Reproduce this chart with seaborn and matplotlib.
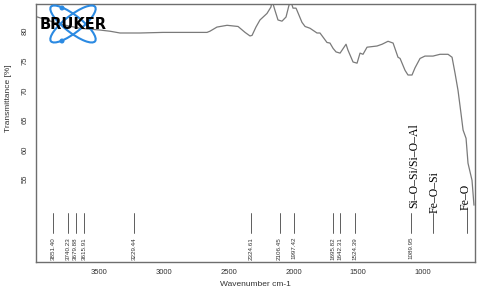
import numpy as np
import pandas as pd
import matplotlib
matplotlib.use("Agg")
import matplotlib.pyplot as plt
import seaborn as sns
from matplotlib.patches import Ellipse, Circle

# FTIR spectrum
wavenumber = [3990, 3917, 3801, 3647, 3492, 3415, 3338, 3184, 3006, 2667,
              2644, 2590, 2512, 2427, 2373, 2335, 2319, 2289, 2258, 2204,
              2173, 2165, 2142, 2119, 2088, 2057, 2034, 2019, 2003, 1980,
              1972, 1934, 1910, 1872, 1818, 1795, 1741, 1718, 1694, 1671,
              1640, 1594, 1579, 1540, 1509, 1486, 1463, 1432, 1355, 1316,
              1270, 1231, 1193, 1177, 1139, 1116, 1085, 1062, 1023, 985,
              923, 869, 807, 776, 753, 730, 707, 691, 668, 653,
              622, 607]
transmittance = [82.5, 82.0, 81.2, 80.5, 80.2, 80.0, 79.7, 79.7, 79.8, 79.8,
                 80.0, 80.7, 81.0, 80.8, 79.8, 79.2, 79.3, 80.7, 81.9, 83.0,
                 84.1, 85.2, 83.5, 81.9, 81.7, 82.4, 84.4, 85.0, 83.9, 83.9,
                 83.5, 81.5, 80.8, 80.5, 79.7, 79.7, 78.1, 78.0, 77.1, 76.5,
                 76.3, 77.8, 76.8, 74.8, 74.6, 76.3, 76.1, 77.3, 77.5, 77.8,
                 78.3, 78.0, 75.6, 75.4, 73.4, 72.6, 72.6, 73.8, 75.4, 75.8,
                 75.8, 76.1, 76.1, 75.6, 72.9, 70.0, 66.1, 63.3, 61.9, 57.7,
                 54.8, 50.6]

# picked peaks
peak_pos = [3851.40, 3740.23, 3679.88, 3615.91, 3229.44, 2324.61, 2106.45,
            1997.42, 1695.82, 1642.31, 1524.39, 1089.95]
peak_labels = ["3851.40", "3740.23", "3679.88", "3615.91", "3229.44", "2324.61",
               "2106.45", "1997.42", "1695.82", "1642.31", "1524.39", "1089.95"]

# band assignments
band_names = ["Si–O–Si/Si–O–Al", "Fe–O–Si", "Fe–O"]
band_pos = [1089.95, 923, 660]

x_ticks = [3500, 3000, 2500, 2000, 1500, 1000]
y_ticks = [55, 60, 65, 70, 75, 80]

GREY = "#6e6e6e"


def draw_logo(fig):
    # rough Bruker logo: two tilted orbits and the name
    lax = fig.add_axes([47 / 480, 1 - 43 / 294, 63 / 480, 38 / 294])
    lax.set_xlim(47, 110)
    lax.set_ylim(43, 5)
    lax.axis("off")
    lax.patch.set_visible(True)
    lax.patch.set_facecolor("white")
    blue = "#2b8ae2"
    for ang in (38, -38):
        lax.add_patch(Ellipse((73, 24), 56, 17, angle=ang, fill=False,
                              ec=blue, lw=1.5, clip_on=False))
    for cy in (8, 41):
        lax.add_patch(Circle((62, cy), 1.8, color=blue, clip_on=False))
    lax.text(73, 24.5, "BRUKER", ha="center", va="center", fontsize=10.5,
             fontweight="bold", color="black", family="DejaVu Sans",
             clip_on=False)


def main():
    sns.set_theme(style="white")
    plt.rcParams["font.family"] = ["Liberation Sans", "DejaVu Sans"]

    df = pd.DataFrame({"wn": wavenumber, "T": transmittance})

    fig = plt.figure(figsize=(4.8, 2.94), dpi=100)
    ax = fig.add_axes([36 / 480, 32 / 294, 439 / 480, 258 / 294])
    sns.lineplot(data=df, x="wn", y="T", sort=False, color="#7a7a7a",
                 linewidth=0.9, ax=ax)

    ax.set_xlim(3986, 599)
    ax.set_ylim(41.0, 84.6)
    ax.set_xticks(x_ticks)
    ax.set_yticks(y_ticks)
    ax.tick_params(axis="both", direction="out", length=3, width=0.8,
                   color=GREY, labelsize=5.5, labelcolor="#333333", pad=2)
    for lab in ax.get_yticklabels():
        lab.set_rotation(90)
        lab.set_va("center")
    for sp in ax.spines.values():
        sp.set_color(GREY)
        sp.set_linewidth(1.0)

    ax.set_xlabel("Wavenumber cm-1", fontsize=6, color="#333333", labelpad=4)
    ax.set_ylabel("Transmittance [%]", fontsize=6, color="#333333")
    ax.yaxis.set_label_coords(-0.055, 0.636)

    # peak markers with labels
    trans = ax.get_xaxis_transform()
    for p, lab in zip(peak_pos, peak_labels):
        ax.plot([p, p], [0.112, 0.19], transform=trans, color="#444444",
                lw=0.6)
        ax.text(p, 0.097, lab, transform=trans, rotation=90, ha="center",
                va="top", fontsize=4.5, color="#333333")

    # band assignments
    offsets = [-22, -15, 15]
    bottoms = [0.21, 0.19, 0.20]
    for name, p, off, b in zip(band_names, band_pos, offsets, bottoms):
        if p not in peak_pos:
            ax.plot([p, p], [0.112, b], transform=trans, color="#444444",
                    lw=0.6)
        ax.text(p + off, b, name, transform=trans, rotation=90,
                ha="center", va="bottom", fontsize=8.5, color="black",
                family=["Liberation Serif", "DejaVu Serif"])

    draw_logo(fig)
    fig.savefig("out.png", dpi=100)


if __name__ == "__main__":
    main()
